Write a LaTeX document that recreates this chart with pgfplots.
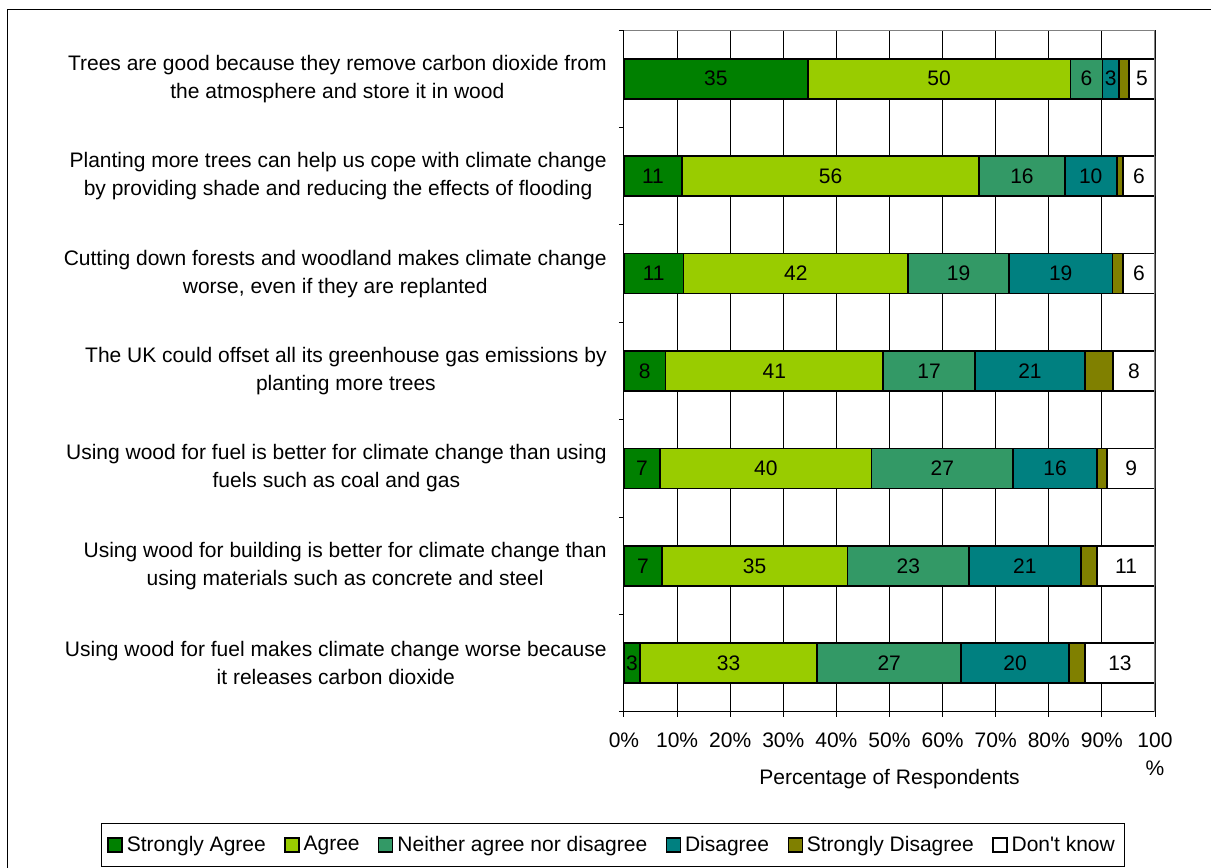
\documentclass[border=0pt]{standalone}
\usepackage{fontspec}
\setmainfont{Liberation Sans}
\usepackage{pgfplots}
\pgfplotsset{compat=1.18}
\usepackage{pgfplotstable}

\definecolor{cSA}{HTML}{008000}
\definecolor{cA}{HTML}{99CC00}
\definecolor{cN}{HTML}{339966}
\definecolor{cD}{HTML}{008080}
\definecolor{cSD}{HTML}{808000}

% row 6 = top statement, row 0 = bottom one
\pgfplotstableread{
row sa   a    n    d    sd  dk   lsa la ln ld ldk
6   34.6 49.5 6.0  3.1  1.9 4.9  35  50 6  3  5
5   10.9 56.0 16.1 9.8  1.2 6.0  11  56 16 10 6
4   11.2 42.3 19.0 19.5 2.0 6.0  11  42 19 19 6
3   7.8  41.0 17.3 20.7 5.3 7.9  8   41 17 21 8
2   6.8  39.8 26.7 15.8 1.9 9.0  7   40 27 16 9
1   7.1  35.0 22.9 21.0 3.1 10.9 7   35 23 21 11
0   3.0  33.4 27.1 20.3 3.0 13.2 3   33 27 20 13
}\survey

% stacked bars already centre their nodes near coords
\pgfplotsset{
  seg/.style={
    point meta=explicit symbolic,
    nodes near coords={\pgfplotspointmeta},
    every node near coord/.append style={text=black, inner sep=0pt},
  },
  bx/.style={draw=black, line width=0.9pt, fill=#1},
}

\begin{document}
\fontsize{10.5}{14}\selectfont
\begin{tikzpicture}
\useasboundingbox (0,0) rectangle (605.5pt,434pt);
\draw[line width=0.5pt] (3.5pt,-1pt) -- (3.5pt,429pt) -- (606pt,429pt);
\begin{axis}[
  at={(312pt,78pt)}, anchor=south west,
  scale only axis, width=265.5pt, height=341pt,
  xbar stacked, bar width=20pt,
  xmin=0, xmax=100, ymin=-0.5, ymax=6.5,
  axis lines=left, axis line style={-, line width=0.5pt},
  tick align=outside, major tick length=2.5pt,
  tick style={black, line width=0.5pt},
  xtick={0,10,...,100},
  xticklabels={0\%,10\%,20\%,30\%,40\%,50\%,60\%,70\%,80\%,90\%,{100\\\%}},
  xticklabel style={align=center, yshift=-4pt},
  xmajorgrids, grid style={black, line width=0.5pt},
  ytick={-0.5,0.5,...,6.5}, yticklabels={},
  extra y ticks={0,1,2,3,4,5,6},
  extra y tick labels={
    {Using wood for fuel makes climate change worse because\\it releases carbon dioxide},
    {Using wood for building is better for climate change than\\using materials such as concrete and steel},
    {Using wood for fuel is better for climate change than using\\fuels such as coal and gas},
    {The UK could offset all its greenhouse gas emissions by\\planting more trees},
    {Cutting down forests and woodland makes climate change\\worse, even if they are replanted},
    {Planting more trees can help us cope with climate change\\by providing shade and reducing the effects of flooding},
    {Trees are good because they remove carbon dioxide from\\the atmosphere and store it in wood}},
  extra y tick style={major tick length=0pt, yticklabel style={align=center, xshift=-5pt}},
  xlabel={Percentage of Respondents},
  xlabel style={at={(axis description cs:0.5,0)}, anchor=center, yshift=-33.5pt},
  legend columns=6,
  legend style={at={(axis description cs:-0.98493,-0.195)}, anchor=west,
    draw=black, line width=0.5pt, inner xsep=3pt, inner ysep=4pt,
    /tikz/every even column/.append style={column sep=7.2pt}},
  legend image code/.code={\draw[#1, draw=black, line width=0.7pt] (0pt,-3.5pt) rectangle (7pt,3.5pt);},
]
\draw[gray, line width=0.6pt] (rel axis cs:0,1) -- (rel axis cs:1,1) -- (rel axis cs:1,0);
\addplot[bx=cSA, seg] table[x=sa, y=row, meta=lsa] {\survey};
\addplot[bx=cA, seg] table[x=a, y=row, meta=la] {\survey};
\addplot[bx=cN, seg] table[x=n, y=row, meta=ln] {\survey};
\addplot[bx=cD, seg] table[x=d, y=row, meta=ld] {\survey};
\addplot[bx=cSD] table[x=sd, y=row] {\survey};
\addplot[bx=white, seg] table[x=dk, y=row, meta=ldk] {\survey};
\legend{Strongly Agree, Agree, Neither agree nor disagree, Disagree, Strongly Disagree, Don\textquotesingle t know}
\end{axis}
\end{tikzpicture}
\end{document}
